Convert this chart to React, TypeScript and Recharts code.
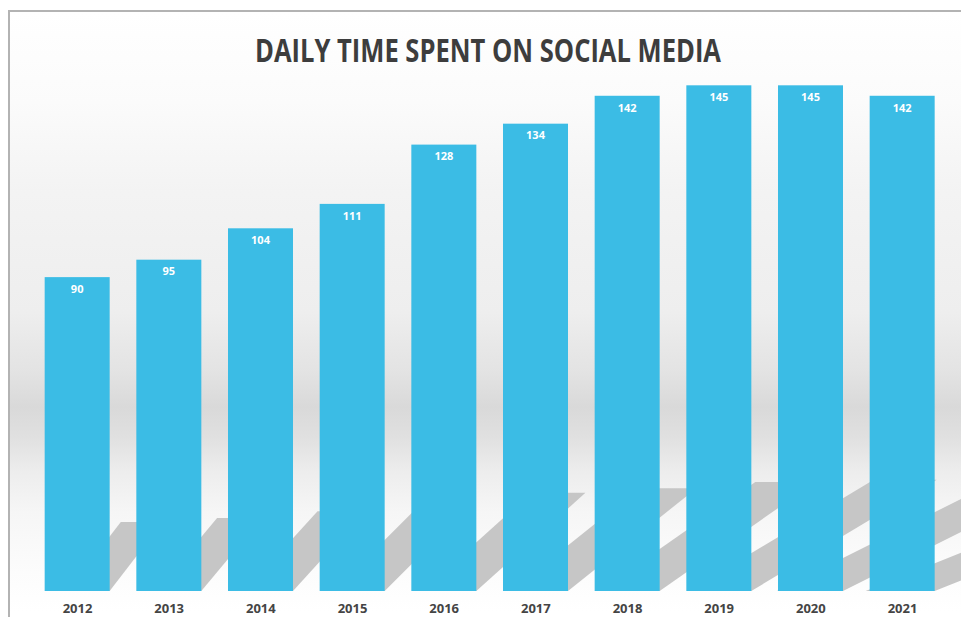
import React from 'react';
import { BarChart, Bar, XAxis, YAxis, LabelList } from 'recharts';

const years = ['2012', '2013', '2014', '2015', '2016', '2017', '2018', '2019', '2020', '2021'];
const minutes = [90, 95, 104, 111, 128, 134, 142, 145, 145, 142];
const title = 'DAILY TIME SPENT ON SOCIAL MEDIA';

const data = years.map((year, i) => ({ year, minutes: minutes[i] }));

const W = 961;
const H = 617;
const FONT = '"Open Sans", "DejaVu Sans", sans-serif';

function BarWithShadow(props: any) {
  const { x, y, width, height, index, fill } = props;
  if (height == null || width == null) return null;
  const base = y + height;
  const L = 0.22 * height;
  const m = 1.3 - 0.1 * index;
  const sw = 42 + 3 * index;
  const x1 = x + width;
  const dx = L / m;
  const pts = [
    [x1 - sw, base],
    [x1, base],
    [x1 + dx, base - L],
    [x1 - sw + dx, base - L],
  ]
    .map((p) => p.join(','))
    .join(' ');
  return (
    <g>
      <polygon points={pts} fill="#c6c6c6" />
      <rect x={x} y={y} width={width} height={height} fill={fill} />
    </g>
  );
}

function YearTick(props: any) {
  const { x, payload } = props;
  return (
    <text
      x={x}
      y={613}
      textAnchor="middle"
      fontFamily={FONT}
      fontWeight={700}
      fontSize={13}
      fill="#444444"
    >
      {payload.value}
    </text>
  );
}

export default function App() {
  return (
    <div
      style={{
        position: 'absolute',
        left: 0,
        top: 0,
        width: W,
        height: H,
        background: '#ffffff',
        overflow: 'hidden',
      }}
    >
      <div
        style={{
          position: 'absolute',
          left: 8,
          top: 10,
          width: W - 8,
          height: H - 10,
          borderTop: '2px solid #b3b3b3',
          borderLeft: '2px solid #b3b3b3',
          boxSizing: 'border-box',
          background:
            'linear-gradient(to bottom, #ffffff 0px, #fbfbfb 90px, #f3f3f3 180px, #eeeeee 300px, #e3e3e3 360px, #d9d9d9 395px, #e0e0e0 425px, #ededed 460px, #f6f6f6 500px, #fcfcfc 560px, #ffffff 600px)',
        }}
      />
      <div style={{ position: 'absolute', left: 0, top: 0 }}>
        <BarChart
          width={W}
          height={H}
          data={data}
          margin={{ top: 33, right: 12.67, bottom: 0, left: 31.67 }}
          barSize={65}
        >
          <XAxis
            dataKey="year"
            height={26}
            axisLine={false}
            tickLine={false}
            tick={<YearTick />}
            interval={0}
          />
          <YAxis hide domain={[0, 160]} />
          <Bar
            dataKey="minutes"
            fill="#3bbce5"
            isAnimationActive={false}
            shape={<BarWithShadow />}
          >
            <LabelList
              dataKey="minutes"
              position="insideTop"
              offset={8}
              fill="#ffffff"
              fontSize={11}
              fontWeight={700}
              fontFamily={FONT}
            />
          </Bar>
        </BarChart>
      </div>
      <svg
        width={W}
        height={80}
        style={{ position: 'absolute', left: 0, top: 0, pointerEvents: 'none' }}
      >
        <text
          x={488}
          y={62}
          textAnchor="middle"
          fontFamily={FONT}
          fontWeight={700}
          fontSize={33}
          fill="#3d3d3d"
          textLength={466}
          lengthAdjust="spacingAndGlyphs"
        >
          {title}
        </text>
      </svg>
    </div>
  );
}
